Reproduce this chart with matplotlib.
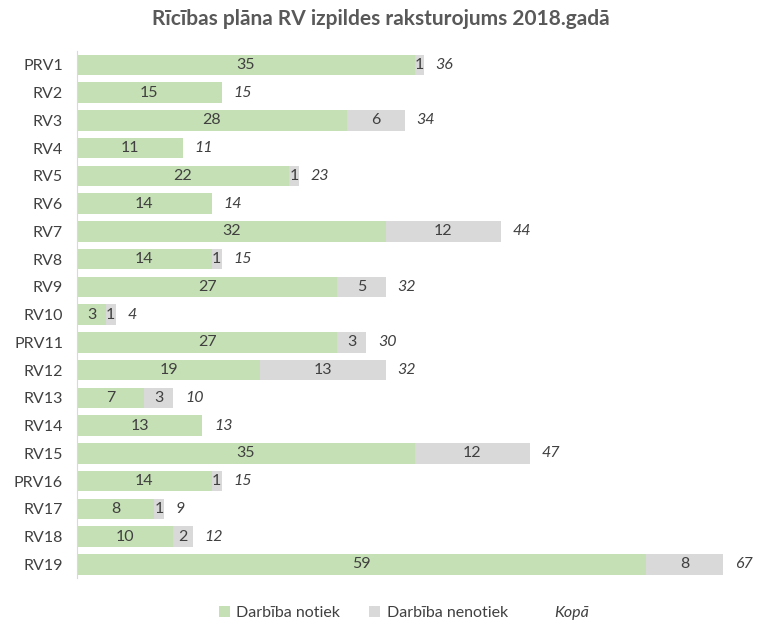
import numpy as np
import matplotlib.pyplot as plt
from matplotlib.patches import Patch
from matplotlib.lines import Line2D

plt.rcParams['font.family'] = ['Lato', 'DejaVu Sans']

# --- dati ---
kategorijas = ['PRV1', 'RV2', 'RV3', 'RV4', 'RV5', 'RV6', 'RV7', 'RV8', 'RV9', 'RV10',
               'PRV11', 'RV12', 'RV13', 'RV14', 'RV15', 'PRV16', 'RV17', 'RV18', 'RV19']
notiek = [35, 15, 28, 11, 22, 14, 32, 14, 27, 3, 27, 19, 7, 13, 35, 14, 8, 10, 59]
nenotiek = [1, 0, 6, 0, 1, 0, 12, 1, 5, 1, 3, 13, 3, 0, 12, 1, 1, 2, 8]
kopa = [a + b for a, b in zip(notiek, nenotiek)]

zals = '#C5E0B4'
pelek = '#D9D9D9'
teksts = '#404040'

fig = plt.figure(figsize=(7.62, 6.21), dpi=100)
ax = fig.add_axes([0.101, 0.069, 0.886, 0.849])

y = np.arange(len(kategorijas))
ax.barh(y, notiek, height=0.74, color=zals)
ax.barh(y, nenotiek, left=notiek, height=0.74, color=pelek)

for i in range(len(y)):
    ax.text(notiek[i] / 2, y[i], str(notiek[i]), ha='center', va='center',
            fontsize=11.5, color=teksts)
    if nenotiek[i] > 0:
        ax.text(notiek[i] + nenotiek[i] / 2, y[i], str(nenotiek[i]), ha='center',
                va='center', fontsize=11.5, color=teksts)
    ax.text(kopa[i] + 1.2, y[i], str(kopa[i]), ha='left', va='center',
            fontsize=11.5, color=teksts, style='italic')

ax.set_yticks(y)
ax.set_yticklabels(kategorijas, fontsize=11.5, color=teksts)
ax.set_ylim(len(y) - 0.5, -0.5)
ax.set_xlim(0, 70)
ax.set_xticks([])
ax.tick_params(axis='y', length=0, pad=10)
for s in ['top', 'right', 'bottom']:
    ax.spines[s].set_visible(False)
ax.spines['left'].set_color('#D9D9D9')

fig.suptitle('Rīcības plāna RV izpildes raksturojums 2018.gadā', fontsize=15,
             fontweight='bold', color='#595959', y=0.985)

elementi = [Patch(facecolor=zals, label='Darbība notiek'),
            Patch(facecolor=pelek, label='Darbība nenotiek'),
            Line2D([], [], linestyle='none', label='Kopā')]
leg = fig.legend(handles=elementi, loc='lower center', ncol=3, frameon=False,
                 bbox_to_anchor=(0.53, -0.022), fontsize=11.5, handlelength=0.7,
                 handleheight=0.7, handletextpad=0.4, columnspacing=1.8)
for t in leg.get_texts():
    t.set_color(teksts)
leg.get_texts()[2].set_style('italic')

fig.savefig('out.png', dpi=100)
